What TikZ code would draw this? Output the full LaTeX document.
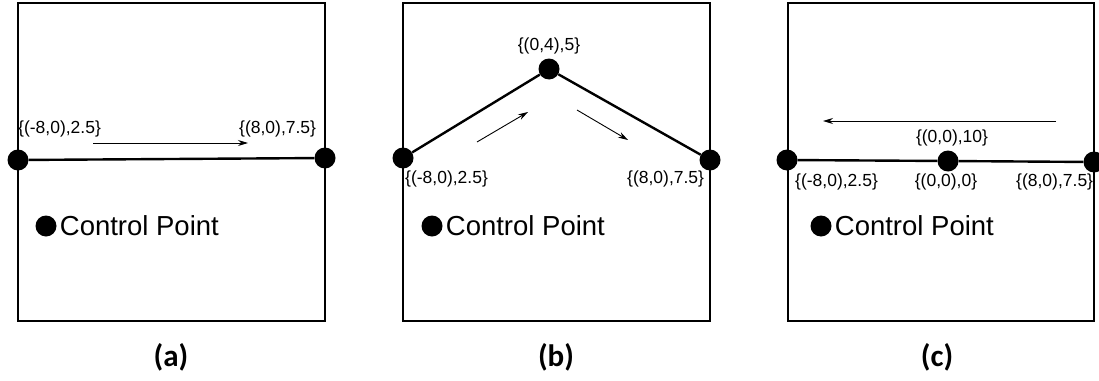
\documentclass[tikz,border=0pt]{standalone}
\usepackage{fontspec}
\setmainfont{Liberation Sans}
\newfontfamily\capfont{Carlito}
\usetikzlibrary{positioning,arrows.meta}

\begin{document}
\begin{tikzpicture}[x=1pt,y=-1pt,
  panel/.style={draw,line width=2.2pt},
  cpoint/.style={circle,fill,inner sep=0pt,minimum size=21pt},
  wire/.style={line width=2.4pt},
  flow/.style={line width=0.9pt,-{Stealth[length=10pt,width=6pt]}},
  tag/.style={font=\fontsize{17.5}{20}\selectfont,inner sep=0pt},
  legend/.style={font=\fontsize{27.5}{32}\selectfont,inner sep=0pt},
  caption/.style={font=\capfont\bfseries\fontsize{31}{36}\selectfont,inner sep=0pt}]
\useasboundingbox (0,0) rectangle (1099,380);

% (a) straight segment
\draw[panel] (18,3) rectangle (325,321);
\node[cpoint] (a1) at (18,160) {};
\node[cpoint] (a2) at (325,158) {};
\draw[wire] (a1) -- (a2);
\node[tag,anchor=west] (la1) at (18,129) {\{(-8,0),2.5\}};
\node[tag,anchor=west] (la2) at (239,129) {\{(8,0),7.5\}};
\coordinate (fa1) at (93,143);
\coordinate (fa2) at (248,143);
\draw[flow] (fa1) -- (fa2);
\node[cpoint] (ka) at (46,226) {};
\node[legend,right=3pt of ka] (ta) {Control Point};
\node[caption] (ca) at (171,357) {(a)};

% (b) raised middle point
\draw[panel] (403,3) rectangle (710,321);
\node[cpoint] (b1) at (403,158) {};
\node[cpoint] (b2) at (549,69) {};
\node[cpoint] (b3) at (710,160) {};
\draw[wire] (b1) -- (b2) -- (b3);
\node[tag] (lb2) at (549,46) {\{(0,4),5\}};
\node[tag,anchor=west] (lb1) at (405,179) {\{(-8,0),2.5\}};
\node[tag,anchor=west] (lb3) at (627,179) {\{(8,0),7.5\}};
\coordinate (fb1) at (477,142);
\coordinate (fb2) at (528,112);
\coordinate (fb3) at (577,110);
\coordinate (fb4) at (628,140);
\draw[flow] (fb1) -- (fb2);
\draw[flow] (fb3) -- (fb4);
\node[cpoint] (kb) at (432,226) {};
\node[legend,right=3pt of kb] (tb) {Control Point};
\node[caption] (cb) at (556,357) {(b)};

% (c) extra point at the origin
\draw[panel] (788,3) rectangle (1094,321);
\node[cpoint] (c1) at (787,160) {};
\node[cpoint] (c2) at (948,161) {};
\node[cpoint] (c3) at (1094,162) {};
\draw[wire] (c1) -- (c2) -- (c3);
\node[tag] (lc2) at (952,138) {\{(0,0),10\}};
\node[tag,anchor=west] (lc1) at (795,182) {\{(-8,0),2.5\}};
\node[tag] (lc4) at (946,182) {\{(0,0),0\}};
\node[tag,anchor=west] (lc3) at (1016,182) {\{(8,0),7.5\}};
\coordinate (fc1) at (1056,121);
\coordinate (fc2) at (823,121);
\draw[flow] (fc1) -- (fc2);
\node[cpoint] (kc) at (821,226) {};
\node[legend,right=3pt of kc] (tc) {Control Point};
\node[caption] (cc) at (937,357) {(c)};
\end{tikzpicture}
\end{document}
